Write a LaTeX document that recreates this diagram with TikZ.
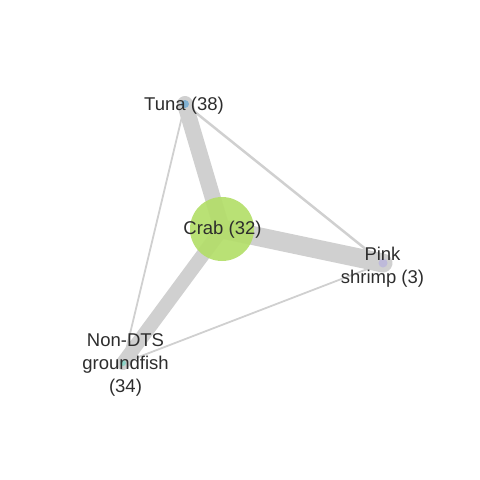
\documentclass[tikz,border=0pt]{standalone}
\usepackage{fontspec}
\setmainfont{Liberation Sans}
\usepackage{xcolor}
\usepackage{tikz}
\usetikzlibrary{backgrounds}

\definecolor{crabgreen}{HTML}{B3DE69}
\definecolor{tunablue}{HTML}{80B1D3}
\definecolor{shrimplilac}{HTML}{BEBADA}
\definecolor{fishteal}{HTML}{8DD3C7}
\definecolor{edgegrey}{RGB}{208,208,208}
\definecolor{labelgrey}{RGB}{45,45,45}

\begin{document}
\begin{tikzpicture}[x=1pt, y=-1pt,
    vertex/.style={circle, inner sep=0pt, draw=none},
    vlabel/.style={font=\fontsize{18.5}{23}\selectfont, text=labelgrey, align=center, inner sep=0pt},
    link/.style={draw=edgegrey, line cap=round},
]
\useasboundingbox (0,0) rectangle (480,480);

% Vertices
\node[vertex, fill=crabgreen, fill opacity=0.92, minimum size=64pt] (crab) at (222,229) {};
\node[vertex, fill=tunablue, minimum size=8pt] (tuna) at (185,104) {};
\node[vertex, fill=shrimplilac, minimum size=9pt] (shrimp) at (383,263) {};
\node[vertex, fill=fishteal, minimum size=6pt] (fish) at (123,363) {};

% Edges (under the vertices)
\begin{scope}[on background layer]
\draw[link, line width=16pt] (crab.center) -- (tuna.center);
\draw[link, line width=19pt] (crab.center) -- (shrimp.center);
\draw[link, line width=14pt] (crab.center) -- (fish.center);
\draw[link, line width=2.5pt] (tuna.center) -- (shrimp.center);
\draw[link, line width=1.8pt] (tuna.center) -- (fish.center);
\draw[link, line width=1.8pt] (fish.center) -- (shrimp.center);
\end{scope}

% Labels
\node[vlabel] (crablbl) at (222.5,230) {Crab (32)};
\node[vlabel] (tunalbl) at (184,106) {Tuna (38)};
\node[vlabel] (shrimplbl) at (382.5,267) {Pink\\shrimp (3)};
\node[vlabel] (fishlbl) at (125.5,365) {Non-DTS\\groundfish\\(34)};
\end{tikzpicture}
\end{document}
